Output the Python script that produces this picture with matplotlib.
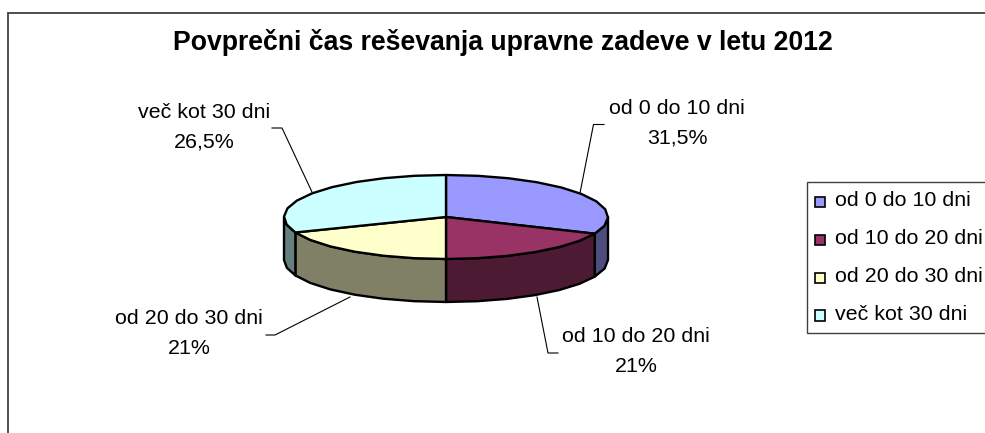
import numpy as np
import matplotlib

matplotlib.use('Agg')

import matplotlib.pyplot as plt
from matplotlib.patches import Polygon, Rectangle

title = 'Povprečni čas reševanja upravne zadeve v letu 2012'
categories = ['od 0 do 10 dni', 'od 10 do 20 dni', 'od 20 do 30 dni', 'več kot 30 dni']
value_labels = ['31,5%', '21%', '21%', '26,5%']
# slice shares as they appear in the tilted picture, the printed labels differ a bit
shares = [31.5, 18.5, 19.0, 31.0]
top_colors = ['#9999FF', '#993366', '#FFFFCC', '#CCFFFF']
side_colors = ['#4D4D80', '#4D1A33', '#808066', '#668080']

plt.rcParams['font.family'] = ['Liberation Sans', 'DejaVu Sans']

CX, CY = 446, 217
RX, RY = 162, 42
DEPTH = 43
STEP = 11
EDGE = 1.7
LABEL_SIZE = 15.4


def ellipse_points(a0, a1):
    # angles in degrees, clockwise from the top, with a coarse step like the original
    n = max(int(round((a1 - a0) / STEP)), 1)
    a = np.radians(np.linspace(a0, a1, n + 1))
    return np.column_stack([CX + RX * np.sin(a), CY - RY * np.cos(a)])


fig = plt.figure(figsize=(9.85, 4.33), dpi=100)
ax = fig.add_axes([0, 0, 1, 1])
ax.set_xlim(0, 985)
ax.set_ylim(433, 0)
ax.axis('off')

# Chart frame, cut off by the screenshot at the right and the bottom
ax.plot([7.5, 7.5, 985], [433, 13, 13], color='#404040', lw=1.3, solid_joinstyle='miter')

edges = np.cumsum([0] + shares) / sum(shares) * 360

# Side wall first, only the front half of the disc shows it
for i in range(len(shares)):
    a0, a1 = max(edges[i], 90), min(edges[i + 1], 270)
    if a1 <= a0:
        continue
    rim = ellipse_points(a0, a1)
    wall = np.vstack([rim, (rim + [0, DEPTH])[::-1]])
    ax.add_patch(Polygon(wall, closed=True, facecolor=side_colors[i], edgecolor='black',
                         lw=EDGE, joinstyle='round', zorder=2))

# Top of the disc
for i in range(len(shares)):
    rim = ellipse_points(edges[i], edges[i + 1])
    wedge = np.vstack([[CX, CY], rim])
    ax.add_patch(Polygon(wedge, closed=True, facecolor=top_colors[i], edgecolor='black',
                         lw=EDGE, joinstyle='round', zorder=3))

# Leader lines and data labels
leaders = [([580, 593.5, 604], [193, 124.5, 124.5]),
           ([537, 548, 558], [297, 353, 353]),
           ([350, 275, 266], [297, 335, 335]),
           ([312, 282, 272], [192, 128, 128])]
label_x = [677, 636, 189, 204]
label_y = [108, 336, 318, 112]
for i, cat in enumerate(categories):
    ax.plot(leaders[i][0], leaders[i][1], color='black', lw=0.8, zorder=1)
    ax.text(label_x[i], label_y[i], cat, fontsize=LABEL_SIZE, ha='center', va='center')
    ax.text(label_x[i], label_y[i] + 30, value_labels[i], fontsize=LABEL_SIZE, ha='center', va='center')

ax.text(503, 42.5, title, fontsize=19.2, fontweight='bold', ha='center', va='center')

# Legend box, its right side is outside the picture
ax.plot([985, 806.5, 806.5, 985], [181.5, 181.5, 333, 333], color='#404040', lw=1.0,
        solid_joinstyle='miter')
legend_y = [201.5, 239.5, 277.5, 315]
for i, cat in enumerate(categories):
    ax.add_patch(Rectangle((814.5, legend_y[i] - 5), 10.5, 10.5, facecolor=top_colors[i],
                           edgecolor='black', lw=1.2))
    ax.text(835, legend_y[i] - 0.5, cat, fontsize=LABEL_SIZE, ha='left', va='center')

fig.savefig('out.png', dpi=100)
